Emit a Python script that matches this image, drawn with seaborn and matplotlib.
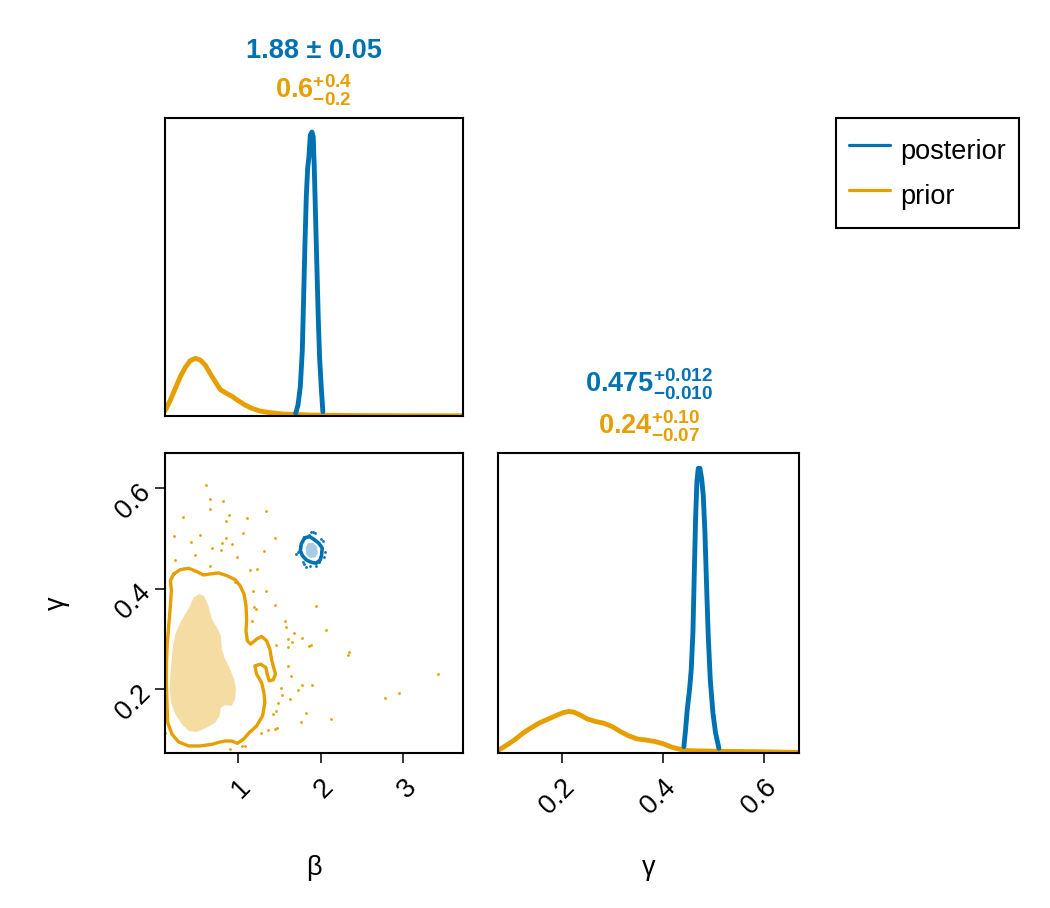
import matplotlib
matplotlib.use("Agg")
import matplotlib.pyplot as plt
from matplotlib.lines import Line2D
import numpy as np
import pandas as pd
import seaborn as sns

BLUE = "#0072B2"
ORANGE = "#E69F00"

# ---------------- data ----------------
# marginal density of beta
beta_post_x = [1.700, 1.728, 1.756, 1.780, 1.796, 1.812, 1.828, 1.844, 1.860, 1.876, 1.896, 1.912,
               1.924, 1.940, 1.956, 1.972, 1.988, 2.008, 2.028]
beta_post_d = [0.075, 0.31, 0.83, 1.86, 3.36, 4.86, 6.18, 6.98, 7.31, 7.92, 8.01, 7.87,
               7.02, 5.62, 4.21, 2.80, 1.67, 0.83, 0.12]
beta_prior_x = [0.122, 0.139, 0.187, 0.247, 0.307, 0.367, 0.427, 0.487, 0.547, 0.607, 0.667, 0.728,
                0.788, 0.848, 0.928, 1.008, 1.088, 1.168, 1.268, 1.388, 1.548, 1.868, 2.468, 3.100, 3.720]
beta_prior_d = [0.15, 0.22, 0.45, 0.78, 1.11, 1.37, 1.56, 1.625, 1.58, 1.44, 1.20, 0.97,
                0.75, 0.66, 0.56, 0.43, 0.31, 0.22, 0.14, 0.094, 0.056, 0.028, 0.012, 0.008, 0.006]

# marginal density of gamma
gamma_post_x = [0.4417, 0.4450, 0.4483, 0.4529, 0.4563, 0.4596, 0.4622, 0.4649, 0.4675, 0.4702,
                0.4735, 0.4768, 0.4801, 0.4834, 0.4867, 0.4900, 0.4940, 0.4993, 0.5046, 0.5112]
gamma_post_d = [0.80, 2.90, 5.43, 7.96, 10.49, 15.13, 22.29, 29.46, 34.09, 35.78,
                35.78, 34.52, 32.41, 27.77, 21.03, 14.70, 9.23, 5.01, 2.48, 0.59]
gamma_prior_x = [0.0743, 0.0908, 0.1074, 0.1239, 0.1405, 0.1570, 0.1736, 0.1901, 0.2034, 0.2133,
                 0.2232, 0.2365, 0.2497, 0.2663, 0.2828, 0.2994, 0.3159, 0.3325, 0.3490, 0.3656,
                 0.3854, 0.4020, 0.4185, 0.4351, 0.4516, 0.5178, 0.5840, 0.6701]
gamma_prior_d = [0.375, 1.007, 1.724, 2.567, 3.241, 3.832, 4.295, 4.759, 5.096, 5.222,
                 5.138, 4.759, 4.295, 3.958, 3.748, 3.326, 2.694, 2.146, 1.767, 1.640,
                 1.429, 1.134, 0.713, 0.460, 0.291, 0.207, 0.165, 0.080]

# 2D credible-region outlines (beta, gamma)
post_outer_b = [1.808, 1.868, 1.928, 1.980, 2.020, 2.012, 1.996, 1.948, 1.888, 1.828, 1.780, 1.756, 1.768, 1.808]
post_outer_g = [0.5011, 0.5037, 0.4971, 0.4904, 0.4811, 0.4659, 0.4572, 0.4506, 0.4526, 0.4572, 0.4659,
                0.4758, 0.4891, 0.5011]
post_inner_b = [1.848, 1.908, 1.956, 1.968, 1.940, 1.876, 1.828, 1.820]
post_inner_g = [0.4904, 0.4911, 0.4838, 0.4705, 0.4625, 0.4612, 0.4678, 0.4811]

prior_outer_b = [0.227, 0.307, 0.407, 0.507, 0.587, 0.667, 0.768, 0.868, 0.968, 1.028, 1.076, 1.100,
                 1.108, 1.100, 1.116, 1.156, 1.228, 1.288, 1.348, 1.388, 1.408, 1.428, 1.456, 1.428,
                 1.380, 1.356, 1.340, 1.276, 1.208, 1.228, 1.288, 1.316, 1.328, 1.300, 1.228, 1.140,
                 1.068, 0.996, 0.928, 0.848, 0.788, 0.688, 0.547, 0.407, 0.287, 0.207, 0.155, 0.147,
                 0.139, 0.139, 0.147, 0.167, 0.187, 0.199, 0.187, 0.227]
prior_outer_g = [0.4293, 0.4379, 0.4406, 0.4339, 0.4273, 0.4293, 0.4313, 0.4260, 0.4180, 0.4060, 0.3894,
                 0.3661, 0.3396, 0.3163, 0.2964, 0.2897, 0.2997, 0.3050, 0.2964, 0.2797, 0.2598, 0.2465,
                 0.2299, 0.2186, 0.2166, 0.2299, 0.2432, 0.2498, 0.2465, 0.2299, 0.2133, 0.1933, 0.1734,
                 0.1468, 0.1268, 0.1136, 0.1003, 0.0923, 0.0969, 0.0969, 0.0949, 0.0903, 0.0870, 0.0870,
                 0.0949, 0.1102, 0.1335, 0.1667, 0.2066, 0.2465, 0.2864, 0.3263, 0.3661, 0.3961, 0.4160,
                 0.4293]
prior_inner_b = [0.539, 0.595, 0.647, 0.688, 0.748, 0.796, 0.808, 0.848, 0.908, 0.956, 0.980, 0.968,
                 0.928, 0.848, 0.796, 0.780, 0.728, 0.627, 0.507, 0.407, 0.327, 0.247, 0.195, 0.179,
                 0.195, 0.219, 0.247, 0.307, 0.367, 0.427, 0.467]
prior_inner_g = [0.3894, 0.3848, 0.3661, 0.3396, 0.3229, 0.3063, 0.2797, 0.2598, 0.2399, 0.2199, 0.2000,
                 0.1800, 0.1667, 0.1681, 0.1634, 0.1468, 0.1335, 0.1235, 0.1149, 0.1169, 0.1302, 0.1501,
                 0.1734, 0.2066, 0.2465, 0.2864, 0.3096, 0.3329, 0.3495, 0.3661, 0.3828]

# samples outside the regions
prior_pts_b = [0.620, 0.668, 0.828, 0.668, 0.339, 1.336, 0.900, 1.108, 0.860, 0.227, 0.547, 1.068, 0.439,
               0.860, 1.448, 0.928, 0.808, 0.688, 0.796, 1.316, 0.487, 0.996, 0.247, 0.668, 1.148, 1.228,
               0.968, 1.180, 1.336, 1.948, 1.448, 1.196, 1.220, 1.176, 1.568, 1.588, 1.680, 2.068, 1.780,
               1.608, 1.660, 1.460, 1.888, 1.860, 1.612, 2.348, 2.328, 1.608, 1.644, 1.780, 1.900, 1.528,
               1.732, 1.540, 2.773, 2.949, 3.413, 1.628, 1.488, 1.420, 1.468, 1.828, 2.128, 1.768, 1.448,
               1.368, 1.476, 1.280, 0.127, 1.088, 0.908, 1.048]
prior_pts_g = [0.6068, 0.5789, 0.5749, 0.5589, 0.5436, 0.5536, 0.5469, 0.5410, 0.5337, 0.5057, 0.5071,
               0.5111, 0.4924, 0.5011, 0.5004, 0.4885, 0.4911, 0.4805, 0.4772, 0.4758, 0.4672, 0.4639,
               0.4579, 0.4453, 0.4379, 0.4386, 0.4133, 0.3947, 0.3961, 0.3655, 0.3675, 0.3642, 0.3595,
               0.3362, 0.3362, 0.3230, 0.3110, 0.3176, 0.3017, 0.2997, 0.2944, 0.2877, 0.2884, 0.2864,
               0.2831, 0.2731, 0.2684, 0.2465, 0.2266, 0.2093, 0.2093, 0.2033, 0.1986, 0.1880, 0.1827,
               0.1920, 0.2299, 0.1800, 0.1734, 0.1501, 0.1568, 0.1535, 0.1401, 0.1348, 0.1215, 0.1182,
               0.1229, 0.1122, 0.1122, 0.0870, 0.0817, 0.0870]
post_pts_b = [1.888, 1.928, 1.860, 1.708, 2.036, 1.828, 1.948, 1.796, 2.008, 1.748, 1.980, 1.728,
              1.908, 2.048, 1.788, 1.868, 2.028]
post_pts_g = [0.5124, 0.5104, 0.5077, 0.4692, 0.4625, 0.4426, 0.4459, 0.4492, 0.4991, 0.4858, 0.4526,
              0.4725, 0.5124, 0.4725, 0.4526, 0.4459, 0.4958]

beta_ticks = [1, 2, 3]
gamma_ticks = [0.2, 0.4, 0.6]
beta_lim = (0.122, 3.72)
gamma_lim = (0.073, 0.670)

series_labels = ["posterior", "prior"]
title_beta = ["1.88 ± 0.05", r"$\mathbf{0.6^{+0.4}_{-0.2}}$"]
title_gamma = [r"$\mathbf{0.475^{+0.012}_{-0.010}}$", r"$\mathbf{0.24^{+0.10}_{-0.07}}$"]

# ---------------- style ----------------
sns.set_theme(style="white")
plt.rcParams["font.family"] = ["Liberation Sans", "DejaVu Sans"]
plt.rcParams["mathtext.fontset"] = "custom"
plt.rcParams["mathtext.rm"] = "Liberation Sans"
plt.rcParams["mathtext.bf"] = "Liberation Sans:bold"
plt.rcParams["mathtext.it"] = "Liberation Sans:italic"
plt.rcParams["mathtext.sf"] = "Liberation Sans"
plt.rcParams["text.color"] = "black"

FS = 19.5
W, H = 1050, 908
fig = plt.figure(figsize=(W / 100, H / 100), dpi=100)
fig.patch.set_facecolor("white")

ax_b = fig.add_axes([165 / W, 1 - 416 / H, 298 / W, 298 / H])
ax_bg = fig.add_axes([165 / W, 1 - 753 / H, 298 / W, 300 / H])
ax_g = fig.add_axes([498 / W, 1 - 753 / H, 301 / W, 300 / H])

pal = {"posterior": BLUE, "prior": ORANGE}
LW = 3.5

# beta marginal
df_b = pd.concat([
    pd.DataFrame({"x": beta_prior_x, "d": beta_prior_d, "dist": "prior"}),
    pd.DataFrame({"x": beta_post_x, "d": beta_post_d, "dist": "posterior"}),
])
sns.lineplot(data=df_b, x="x", y="d", hue="dist", palette=pal, hue_order=["prior", "posterior"],
             sort=False, estimator=None, lw=LW, legend=False, ax=ax_b)
ax_b.set_xlim(*beta_lim)
ax_b.set_ylim(0, max(beta_post_d) / 0.953)

# gamma marginal
df_g = pd.concat([
    pd.DataFrame({"x": gamma_prior_x, "d": gamma_prior_d, "dist": "prior"}),
    pd.DataFrame({"x": gamma_post_x, "d": gamma_post_d, "dist": "posterior"}),
])
sns.lineplot(data=df_g, x="x", y="d", hue="dist", palette=pal, hue_order=["prior", "posterior"],
             sort=False, estimator=None, lw=LW, legend=False, ax=ax_g)
ax_g.set_xlim(*gamma_lim)
ax_g.set_ylim(0, max(gamma_post_d) / 0.949)

# joint panel
sns.scatterplot(x=prior_pts_b, y=prior_pts_g, color=ORANGE, s=4, linewidth=0, ax=ax_bg)
sns.scatterplot(x=post_pts_b, y=post_pts_g, color=BLUE, s=4, linewidth=0, ax=ax_bg)
ax_bg.fill(prior_inner_b, prior_inner_g, color=ORANGE, alpha=0.36, lw=0)
ax_bg.plot(prior_outer_b, prior_outer_g, color=ORANGE, lw=2.4, solid_joinstyle="round")
ax_bg.fill(post_inner_b, post_inner_g, color=BLUE, alpha=0.35, lw=0)
ax_bg.plot(post_outer_b, post_outer_g, color=BLUE, lw=2.6, solid_joinstyle="round")
ax_bg.set_xlim(*beta_lim)
ax_bg.set_ylim(*gamma_lim)

for ax in (ax_b, ax_bg, ax_g):
    ax.set_facecolor("white")
    ax.grid(False)
    for sp in ax.spines.values():
        sp.set_visible(True)
        sp.set_color("black")
        sp.set_linewidth(1.5)
    ax.set_xlabel("")
    ax.set_ylabel("")

ax_b.set_xticks([])
ax_b.set_yticks([])
ax_g.set_yticks([])

ax_bg.set_xticks(beta_ticks, labels=[str(t) for t in beta_ticks])
ax_bg.set_yticks(gamma_ticks, labels=[f"{t:.1f}" for t in gamma_ticks])
ax_g.set_xticks(gamma_ticks, labels=[f"{t:.1f}" for t in gamma_ticks])

for ax in (ax_bg, ax_g):
    ax.tick_params(axis="x", bottom=True, direction="out", length=7.5, width=1.1,
                   color="black", pad=8, labelsize=FS, labelcolor="black")
    for lab in ax.get_xticklabels():
        lab.set_rotation(45)
        lab.set_ha("right")
        lab.set_va("top")
        lab.set_rotation_mode("anchor")
ax_bg.tick_params(axis="y", left=True, direction="out", length=7.5, width=1.1,
                  color="black", pad=6, labelsize=FS, labelcolor="black")
for lab in ax_bg.get_yticklabels():
    lab.set_rotation(45)
    lab.set_ha("right")
    lab.set_va("center")
    lab.set_rotation_mode("anchor")

# axis labels
ax_bg.set_xlabel("β", fontsize=FS, color="black")
ax_bg.xaxis.set_label_coords(0.5, -(868 - 753) / 300)
ax_bg.xaxis.label.set_va("center")
ax_g.set_xlabel("γ", fontsize=FS, color="black")
ax_g.xaxis.set_label_coords(0.5, -(868 - 753) / 300)
ax_g.xaxis.label.set_va("center")
ax_bg.set_ylabel("γ", fontsize=FS, color="black", rotation=90)
ax_bg.yaxis.set_label_coords((57 - 165) / 298, 0.5)
ax_bg.yaxis.label.set_va("center")

# summary titles
fig.text(314 / W, 1 - 58 / H, title_beta[0], color=BLUE, fontsize=FS, fontweight="bold",
         ha="center", va="baseline")
fig.text(314 / W, 1 - 98 / H, title_beta[1], color=ORANGE, fontsize=FS,
         ha="center", va="baseline")
fig.text(649 / W, 1 - 393 / H, title_gamma[0], color=BLUE, fontsize=FS,
         ha="center", va="baseline")
fig.text(649 / W, 1 - 434 / H, title_gamma[1], color=ORANGE, fontsize=FS,
         ha="center", va="baseline")

# legend
handles = [Line2D([], [], color=BLUE, lw=2.3), Line2D([], [], color=ORANGE, lw=2.3)]
leg = fig.legend(handles, series_labels, loc="upper left", bbox_to_anchor=(836 / W, 1 - 118 / H),
                 borderaxespad=0, frameon=True, fancybox=False, framealpha=1, edgecolor="black",
                 fontsize=FS, handlelength=1.5, handleheight=1.85, handletextpad=0.38,
                 borderpad=0.48, labelspacing=0.22, labelcolor="black")
leg.get_frame().set_linewidth(1.5)

fig.savefig("out.png", dpi=100, facecolor="white")
